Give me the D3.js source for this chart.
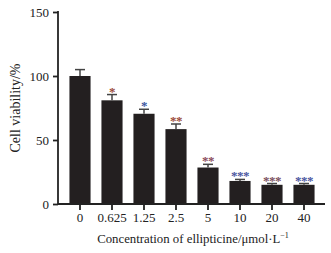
<!DOCTYPE html>
<html>
<head>
<meta charset="utf-8">
<script src="https://cdn.jsdelivr.net/npm/d3@7"></script>
<style>
  body { margin: 0; background: #fff; }
  text { font-family: "Liberation Serif", "DejaVu Serif", serif; fill: #222; }
</style>
</head>
<body>
<div id="chart"></div>
<script>
// data
const concentrations = ["0", "0.625", "1.25", "2.5", "5", "10", "20", "40"];
const viability = [100, 81, 70.5, 58.5, 28.5, 18, 15, 15];
const errors = [5, 4.5, 3.5, 4, 2.5, 1.2, 1, 1];
const stars = ["", "*", "*", "**", "**", "***", "***", "***"];
const starColors = ["#000", "#9a4a3a", "#3a56a0", "#9a4a3a", "#8a4a5a", "#4a56a0", "#7a5060", "#4a56a0"];
const yTicks = [0, 50, 100, 150];

const width = 331, height = 253;
const margin = { top: 12, right: 6, bottom: 49, left: 58 };

const svg = d3.select("#chart").append("svg")
    .attr("width", width)
    .attr("height", height);

const data = concentrations.map((c, i) => ({ c: c, v: viability[i], e: errors[i], s: stars[i], col: starColors[i] }));

const x = d3.scaleBand()
    .domain(concentrations)
    .range([64, 320])
    .paddingInner(0.34)
    .paddingOuter(0.17);

const y = d3.scaleLinear()
    .domain([0, 150])
    .range([height - margin.bottom, margin.top]);

// bars
svg.selectAll(".bar")
    .data(data)
    .enter()
    .append("rect")
    .attr("class", "bar")
    .attr("x", d => x(d.c))
    .attr("y", d => y(d.v))
    .attr("width", x.bandwidth())
    .attr("height", d => y(0) - y(d.v))
    .attr("fill", "#231f20");

// error bars (upper only)
const err = svg.selectAll(".err")
    .data(data)
    .enter()
    .append("g")
    .attr("class", "err")
    .attr("stroke", "#444")
    .attr("stroke-width", 1.5);

err.append("line")
    .attr("x1", d => x(d.c) + x.bandwidth() / 2)
    .attr("x2", d => x(d.c) + x.bandwidth() / 2)
    .attr("y1", d => y(d.v))
    .attr("y2", d => y(d.v + d.e));

err.append("line")
    .attr("x1", d => x(d.c) + x.bandwidth() / 2 - 5)
    .attr("x2", d => x(d.c) + x.bandwidth() / 2 + 5)
    .attr("y1", d => y(d.v + d.e))
    .attr("y2", d => y(d.v + d.e));

// significance stars
svg.selectAll(".star")
    .data(data)
    .enter()
    .append("text")
    .attr("class", "star")
    .attr("x", d => x(d.c) + x.bandwidth() / 2)
    .attr("y", d => y(d.v + d.e) + 1)
    .attr("text-anchor", "middle")
    .style("font-size", "13px")
    .style("font-weight", "bold")
    .style("fill", d => d.col)
    .style("letter-spacing", "-0.5px")
    .text(d => d.s);

// y axis
const yAxis = svg.append("g")
    .attr("transform", `translate(${margin.left},0)`)
    .call(d3.axisLeft(y).tickValues(yTicks).tickSize(5).tickPadding(4));

// x axis
const xAxis = svg.append("g")
    .attr("transform", `translate(0,${y(0)})`)
    .call(d3.axisBottom(x).tickSize(6).tickPadding(3));

[yAxis, xAxis].forEach(a => {
    a.select(".domain").remove();
    a.selectAll("line").attr("stroke", "#222").attr("stroke-width", 1.8);
    a.selectAll("text")
        .style("font-family", "'Liberation Serif', serif")
        .style("font-size", "13px")
        .attr("fill", "#222");
});

// axis lines
svg.append("line")
    .attr("x1", margin.left).attr("x2", margin.left)
    .attr("y1", y(150) - 0.9).attr("y2", y(0))
    .attr("stroke", "#222").attr("stroke-width", 1.8);
svg.append("line")
    .attr("x1", margin.left).attr("x2", 325)
    .attr("y1", y(0)).attr("y2", y(0))
    .attr("stroke", "#222").attr("stroke-width", 1.8);

// titles
svg.append("text")
    .attr("transform", `translate(20,${(y(0) + y(150)) / 2}) rotate(-90)`)
    .attr("text-anchor", "middle")
    .style("font-size", "14px")
    .text("Cell viability/%");

const xt = svg.append("text")
    .attr("x", 193)
    .attr("y", 243)
    .attr("text-anchor", "middle")
    .style("font-size", "12.8px");
xt.append("tspan").text("Concentration of ellipticine/μmol·L");
xt.append("tspan").attr("dy", "-5").style("font-size", "8px").text("−1");
</script>
</body>
</html>
